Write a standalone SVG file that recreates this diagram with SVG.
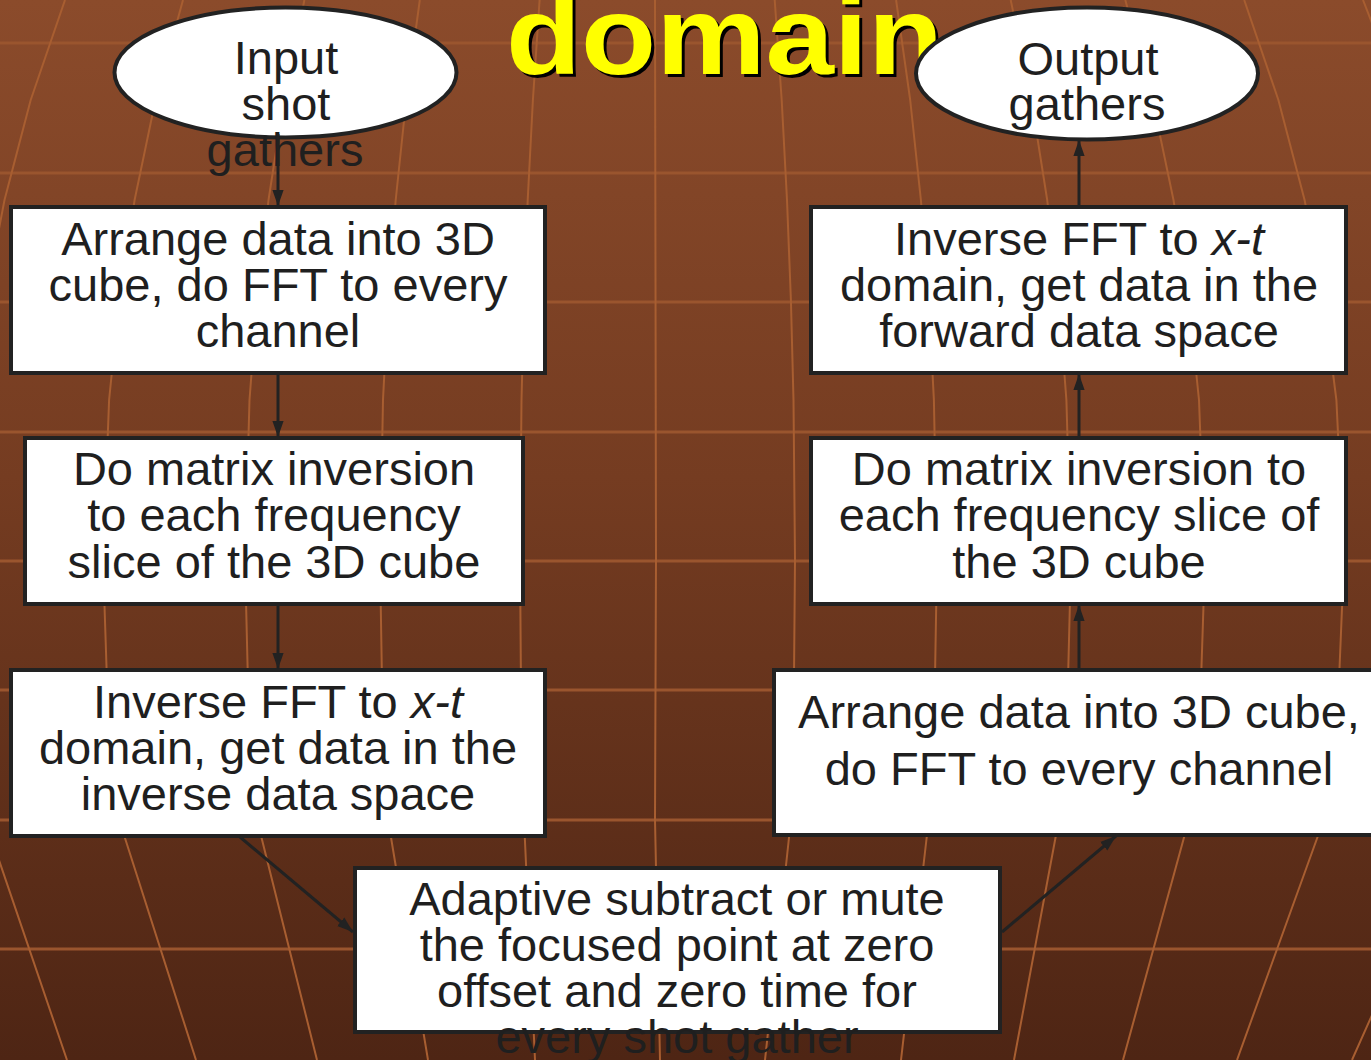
<svg xmlns="http://www.w3.org/2000/svg" width="1371" height="1060" viewBox="0 0 1371 1060">
<defs>
<linearGradient id="bg" x1="0" y1="0" x2="0" y2="1">
<stop offset="0" stop-color="#8B4B2B"/>
<stop offset="0.45" stop-color="#753C21"/>
<stop offset="1" stop-color="#4E2514"/>
</linearGradient>
<marker id="ah" markerUnits="userSpaceOnUse" markerWidth="16" markerHeight="22" viewBox="0 0 20 14" refX="20" refY="7" orient="auto">
<path d="M0,0 L20,7 L0,14 Z" fill="#222"/>
</marker>
<style>
.hg{stroke:#9A552E;stroke-width:3;fill:none}
.vg{stroke:#A85E31;stroke-width:2;fill:none;stroke-linejoin:round}
.box{fill:#fff;stroke:#222;stroke-width:4}
.ell{fill:#fff;stroke:#222;stroke-width:4}
.t{font-family:"Liberation Sans",Arial,sans-serif;font-size:47px;fill:#1f1f1f;text-anchor:middle}
.con{stroke:#222;stroke-width:3;fill:none;marker-end:url(#ah)}
.ttl{font-family:"Liberation Sans",Arial,sans-serif;font-weight:bold;font-size:112px}
</style>
</defs>
<rect x="0" y="0" width="1371" height="1060" fill="url(#bg)"/>
<g id="grid">
<path class="hg" d="M0,43H1371M0,173H1371M0,302H1371M0,432H1371M0,561H1371M0,690H1371M0,820H1371M0,949H1371"/>
<path class="vg" d="M65,0 L30.7,100 L4.5,200 L-14.7,300 L-27.4,400 L-35,560 L-29.2,700 L-14.7,820 L67,1060"/>
<path class="vg" d="M183,0 L155.5,100 L134.6,200 L119.2,300 L109.1,400 L103,560 L107.6,700 L119.2,820 L196,1060"/>
<path class="vg" d="M304.4,0 L284,100 L268.5,200 L257.1,300 L249.5,400 L245,560 L248.4,700 L257.1,820 L317,1060"/>
<path class="vg" d="M419.8,0 L406.2,100 L395.7,200 L388.1,300 L383,400 L380,560 L382.3,700 L388.1,820 L428,1060"/>
<path class="vg" d="M539.6,0 L532.9,100 L527.7,200 L524,300 L521.5,400 L520,560 L521.1,700 L524,820 L535,1060"/>
<path class="vg" d="M655,0 L656,560 L655,820 L660,1060"/>
<path class="vg" d="M774.7,0 L781.7,100 L787,200 L790.9,300 L793.5,400 L795,560 L793.8,700 L790.9,820 L765,1060"/>
<path class="vg" d="M896.1,0 L910.2,100 L920.9,200 L928.7,300 L933.9,400 L937,560 L934.6,700 L928.7,820 L901,1060"/>
<path class="vg" d="M1010.7,0 L1031.4,100 L1047.2,200 L1058.8,300 L1066.4,400 L1071,560 L1067.5,700 L1058.8,820 L1014,1060"/>
<path class="vg" d="M1125.3,0 L1152.6,100 L1173.5,200 L1188.8,300 L1199,400 L1205,560 L1200.4,700 L1188.8,820 L1123,1060"/>
<path class="vg" d="M1244.2,0 L1278.4,100 L1304.6,200 L1323.7,300 L1336.4,400 L1344,560 L1338.2,700 L1323.7,820 L1237,1060"/>
<path class="vg" d="M1363,0 L1410,120 M1459,820 L1352,1060"/>
</g>
<g id="title">
<text class="ttl" x="509" y="77" fill="#000" textLength="437" lengthAdjust="spacingAndGlyphs">domain</text>
<text class="ttl" x="506" y="74" fill="#FFFF00" textLength="437" lengthAdjust="spacingAndGlyphs">domain</text>
</g>
<g id="input">
<ellipse class="ell" cx="285.5" cy="72.5" rx="171" ry="65"/>
<text class="t" x="286" y="74">Input</text>
<text class="t" x="286" y="120">shot</text>
<text class="t" x="285" y="166">gathers</text>
</g>
<g id="output">
<ellipse class="ell" cx="1087" cy="73.5" rx="171" ry="66"/>
<text class="t" x="1088" y="75">Output</text>
<text class="t" x="1087" y="120">gathers</text>
</g>
<g id="box1">
<rect class="box" x="11" y="207" width="534" height="166"/>
<text class="t" x="278" y="255">Arrange data into 3D</text>
<text class="t" x="278" y="301">cube, do FFT to every</text>
<text class="t" x="278" y="347">channel</text>
</g>
<g id="box2">
<rect class="box" x="25" y="438" width="498" height="166"/>
<text class="t" x="274" y="485">Do matrix inversion</text>
<text class="t" x="274" y="531">to each frequency</text>
<text class="t" x="274" y="578">slice of the 3D cube</text>
</g>
<g id="box3">
<rect class="box" x="11" y="670" width="534" height="166"/>
<text class="t" x="278" y="718">Inverse FFT to <tspan font-style="italic">x-t</tspan></text>
<text class="t" x="278" y="764">domain, get data in the</text>
<text class="t" x="278" y="810">inverse data space</text>
</g>
<g id="box5">
<rect class="box" x="355" y="868" width="645" height="164"/>
<text class="t" x="677" y="915">Adaptive subtract or mute</text>
<text class="t" x="677" y="961">the focused point at zero</text>
<text class="t" x="677" y="1007">offset and zero time for</text>
<text class="t" x="677" y="1053">every shot gather</text>
</g>
<g id="box6">
<rect class="box" x="774" y="670" width="620" height="165"/>
<text class="t" x="1079" y="728">Arrange data into 3D cube,</text>
<text class="t" x="1079" y="785">do FFT to every channel</text>
</g>
<g id="box4">
<rect class="box" x="811" y="438" width="535" height="166"/>
<text class="t" x="1079" y="485">Do matrix inversion to</text>
<text class="t" x="1079" y="531">each frequency slice of</text>
<text class="t" x="1079" y="578">the 3D cube</text>
</g>
<g id="box7">
<rect class="box" x="811" y="207" width="535" height="166"/>
<text class="t" x="1079" y="255">Inverse FFT to <tspan font-style="italic">x-t</tspan></text>
<text class="t" x="1079" y="301">domain, get data in the</text>
<text class="t" x="1079" y="347">forward data space</text>
</g>
<g id="connectors">
<path class="con" d="M278,134 L278,206"/>
<path class="con" d="M278,375 L278,437"/>
<path class="con" d="M278,606 L278,669"/>
<path class="con" d="M240,837 L353,932"/>
<path class="con" d="M1002,932 L1116,836"/>
<path class="con" d="M1079,668 L1079,605"/>
<path class="con" d="M1079,436 L1079,374"/>
<path class="con" d="M1079,205 L1079,140"/>
</g>
</svg>
